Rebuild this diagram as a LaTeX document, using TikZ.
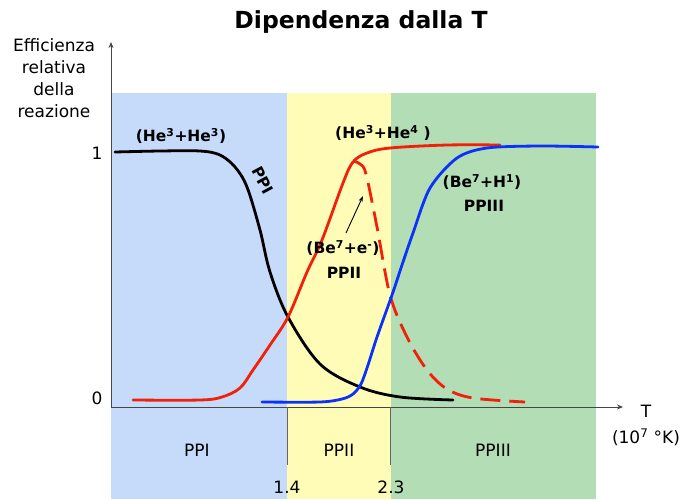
\documentclass[tikz,border=0pt]{standalone}
\usepackage{fontspec}
\setmainfont{DejaVu Sans}
\usetikzlibrary{arrows.meta}
\definecolor{bandblue}{RGB}{198,218,250}
\definecolor{bandyellow}{RGB}{255,252,183}
\definecolor{bandgreen}{RGB}{179,221,180}
\definecolor{curvered}{RGB}{240,32,10}
\definecolor{curveblue}{RGB}{10,50,250}
\definecolor{axisgray}{RGB}{70,70,70}
\tikzset{
  lab/.style={font=\fontsize{17}{22}\selectfont, inner sep=0pt, text=black},
  blab/.style={font=\bfseries\fontsize{15.5}{21}\selectfont, inner sep=0pt, text=black},
  axisline/.style={draw=axisgray, line width=1pt, -{Stealth[length=6pt,width=5pt]}},
  tickline/.style={draw=gray!80!black, line width=0.9pt},
  curve/.style={line width=2.8pt, line cap=round, line join=round},
}
\begin{document}
\begin{tikzpicture}[x=1pt,y=-1pt]
\useasboundingbox (0,0) rectangle (684,499);
% bands
\fill[bandblue] (111,93) rectangle (287,499);
\fill[bandyellow] (287,93) rectangle (391,499);
\fill[bandgreen] (391,93) rectangle (596,499);
% axes
\coordinate (O) at (111,407);
\coordinate (ytop) at (111,42);
\coordinate (xend) at (623,407);
\draw[axisline] (O) -- (ytop);
\draw[axisline] (O) -- (xend);
% ticks
\coordinate (t1a) at (287,407);
\coordinate (t1b) at (287,465);
\coordinate (t2a) at (390,407);
\coordinate (t2b) at (390,465);
\draw[tickline] (t1a) -- (t1b);
\draw[tickline] (t2a) -- (t2b);
% title
\node[font=\bfseries\fontsize{23.5}{28}\selectfont, inner sep=0pt] (title) at (361,22) {Dipendenza dalla T};
% y label
\node[lab, align=center] (ylab) at (54,78) {Efficienza\\relativa\\della\\reazione};
\node[lab] (one) at (97,153) {1};
\node[lab] (zero) at (97,398) {0};
% x label
\node[lab] (T) at (646,411) {T};
\node[lab] (Tunit) at (646,437) {(10\textsuperscript{7} °K)};
\node[lab] (l14) at (287,487) {1.4};
\node[lab] (l23) at (391,487) {2.3};
\node[lab] (bPPI) at (197,450) {PPI};
\node[lab] (bPPII) at (339,450) {PPII};
\node[lab] (bPPIII) at (493,450) {PPIII};
% curves
\draw[curve, black] plot[smooth, tension=0.55] coordinates {(115,152) (160,151) (200,151) (220,155) (235,167) (247,187) (260,230) (270,272) (288,317) (320,364) (360,387) (400,397) (453,400)};
\draw[curve, curvered] plot[smooth, tension=0.55] coordinates {(133,400) (200,400) (222,397) (240,388) (253,370) (270,345) (288,317) (307,272) (322,240) (343,183) (353,162) (367,153) (390,148) (447,145) (500,145)};
\draw[curve, curvered, line cap=butt, dash pattern=on 20pt off 9pt] plot[smooth, tension=0.55] coordinates {(353,161) (360,164) (366,174) (377,227) (390,295) (407,337) (427,370) (447,389) (473,398) (525,402)};
\draw[curve, curveblue] plot[smooth, tension=0.5] coordinates {(262,402) (320,402) (342,399) (353,394) (361,384) (368,365) (377,337) (392,295) (402,265) (413,233) (430,188) (457,158) (487,148) (540,146) (598,147)};
% curve labels
\node[blab] (he33) at (181,136) {(He\textsuperscript{3}+He\textsuperscript{3})};
\node[blab, rotate=-62] (ppi) at (263,180) {PPI};
\node[blab] (he34) at (383,133) {(He\textsuperscript{3}+He\textsuperscript{4} )};
\node[blab] (be7e) at (343,248) {(Be\textsuperscript{7}+e\textsuperscript{-})};
\node[blab] (ppii) at (344,273) {PPII};
\node[blab] (be7h) at (482,182) {(Be\textsuperscript{7}+H\textsuperscript{1})};
\node[blab] (ppiii) at (484,206) {PPIII};
% arrow to dashed curve
\coordinate (arrs) at (346,233);
\coordinate (arre) at (363,196);
\draw[line width=0.9pt, -{Stealth[length=6pt,width=4pt]}] (arrs) -- (arre);
\end{tikzpicture}
\end{document}
